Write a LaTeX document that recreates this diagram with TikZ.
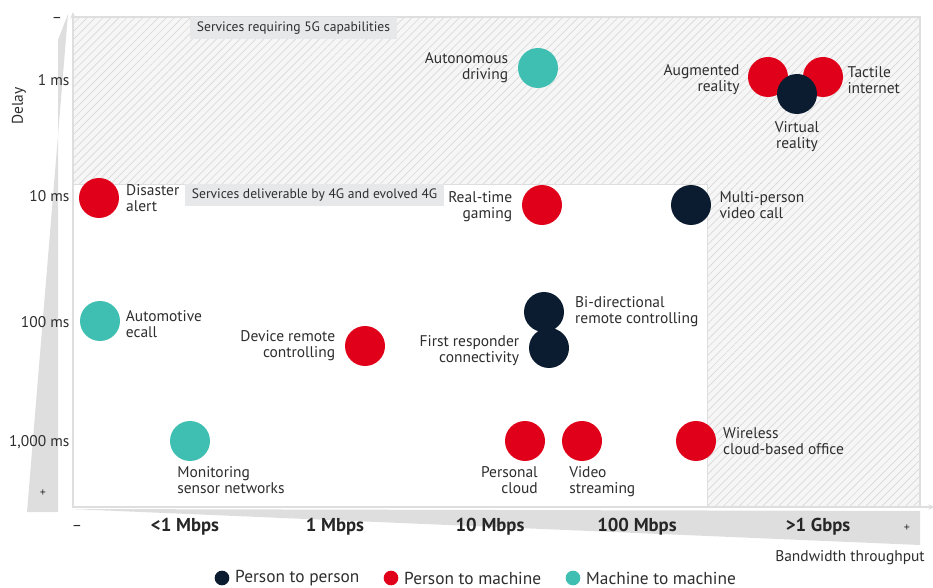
\documentclass[tikz,border=0pt]{standalone}
\usepackage{fontspec}
\setmainfont{PT Sans}
\usetikzlibrary{positioning,patterns.meta,arrows.meta}

\definecolor{ptm}{HTML}{E1001A}
\definecolor{ptp}{HTML}{0C1C30}
\definecolor{mtm}{HTML}{3EBFB1}
\definecolor{hatchbg}{HTML}{F6F6F6}
\definecolor{hatchln}{HTML}{D9D9D9}
\definecolor{txtgray}{HTML}{2E2E2E}
\definecolor{axisgray}{HTML}{DEDEDE}
\definecolor{tagbg}{HTML}{E6E8EA}

\begin{document}
\begin{tikzpicture}[x=0.75pt, y=-0.75pt,
                    node distance=4pt,
                    font=\fontsize{11.6}{12}\selectfont]
    \tikzstyle{dot}=[circle,
                    minimum size=30pt,
                    inner sep=0pt]
    \tikzstyle{lbl}=[text=txtgray,
                    inner sep=1pt]
    \tikzstyle{tick}=[text=txtgray,
                    anchor=east,
                    inner sep=1pt]
    \tikzstyle{rate}=[text=black!85,
                    font=\bfseries\fontsize{14}{16}\selectfont]
    \tikzstyle{tag}=[fill=tagbg,
                    text=txtgray,
                    anchor=north west,
                    minimum height=15.5pt,
                    inner xsep=5pt,
                    font=\fontsize{10.2}{11}\selectfont]
    \tikzstyle{key}=[circle,
                    minimum size=11pt,
                    inner sep=0pt]

    \useasboundingbox (0,0) rectangle (933,588);

    % axis wedges
    \fill[axisgray] (27,512) -- (58,512) -- (58,40) -- (68,14) -- cycle;
    \fill[axisgray] (70,509) -- (920,511) -- (920,545) -- cycle;

    % 5G area
    \fill[hatchbg] (73,17) rectangle (920,184);
    \fill[hatchbg] (707,184) rectangle (920,507);
    \fill[pattern={Lines[angle=45,distance=4.2pt,line width=0.5pt]}, pattern color=hatchln]
        (73,17) rectangle (920,184);
    \fill[pattern={Lines[angle=45,distance=4.2pt,line width=0.5pt]}, pattern color=hatchln]
        (707,184) rectangle (920,507);
    \fill[white] (73,184) rectangle (707,507);
    \draw[axisgray, line width=0.6pt] (73,184) -- (707,184) -- (707,507);

    % axes
    \coordinate (origin) at (73,507);
    \coordinate (xend) at (935,507);
    \coordinate (ytop) at (73,12);
    \draw[axisgray, line width=1.2pt] (73,17) rectangle (920,507);
    \draw[axisgray, line width=1pt, -{Stealth[length=5pt,width=4pt]}] (origin) -- (xend);
    \draw[axisgray, line width=1pt, -{Stealth[length=5pt,width=4pt]}] (origin) -- (ytop);

    \node[tag] (tag5g) at (190,17) {Services requiring 5G capabilities};
    \node[tag] (tag4g) at (185,184) {Services deliverable by 4G and evolved 4G};

    % delay ticks
    \node[text=txtgray] (ymin) at (57,20) {–};
    \node[tick] (t1) at (71,80) {1 ms};
    \node[tick] (t10) at (71,196) {10 ms};
    \node[tick] (t100) at (71,322) {100 ms};
    \node[tick] (t1000) at (71,442) {1,000 ms};
    \node[text=txtgray, font=\fontsize{9}{10}\selectfont] (yplus) at (43,493) {+};
    \node[text=txtgray, rotate=90] (delay) at (19,106) {Delay};

    % bandwidth ticks
    \node[text=txtgray] (xmin) at (77,528) {–};
    \node[rate] (b1) at (185,527) {<1 Mbps};
    \node[rate] (b2) at (335,527) {1 Mbps};
    \node[rate] (b3) at (490,527) {10 Mbps};
    \node[rate] (b4) at (637,527) {100 Mbps};
    \node[rate] (b5) at (818,527) {>1 Gbps};
    \node[text=txtgray, font=\fontsize{9}{10}\selectfont] (xplus) at (907,528) {+};
    \node[text=txtgray] (bw) at (850,558) {Bandwidth throughput};

    % services
    \node[dot, fill=ptm] (disaster) at (99,198) {};
    \node[lbl, right=of disaster, align=left] {Disaster\\alert};

    \node[dot, fill=mtm] (ecall) at (100,321) {};
    \node[lbl, right=3pt of ecall, yshift=-2pt, align=left] {Automotive\\ecall};

    \node[dot, fill=ptm] (devremote) at (365,346) {};
    \node[lbl, left=6pt of devremote, align=right] {Device remote\\controlling};

    \node[dot, fill=mtm] (monitoring) at (190,441) {};
    \node[lbl, below=7pt of monitoring.south west, anchor=north west, align=left] {Monitoring\\sensor networks};

    \node[dot, fill=mtm] (autodrive) at (538,68) {};
    \node[lbl, left=6pt of autodrive, align=right] {Autonomous\\driving};

    \node[dot, fill=ptm] (gaming) at (542,205) {};
    \node[lbl, left=6pt of gaming, yshift=-1pt, align=right] {Real-time\\gaming};

    \node[dot, fill=ptp] (videocall) at (691,205) {};
    \node[lbl, right=5pt of videocall, align=left] {Multi-person\\video call};

    \node[dot, fill=ptp] (bidir) at (544,312) {};
    \node[lbl, right=7pt of bidir, align=left] {Bi-directional\\remote controlling};

    \node[dot, fill=ptp] (responder) at (549,348) {};
    \node[lbl, left=6pt of responder, yshift=-2pt, align=right] {First responder\\connectivity};

    \node[dot, fill=ptm] (perscloud) at (525,441) {};
    \node[lbl, below=7pt of perscloud.south east, anchor=north east, align=right] {Personal\\cloud};

    \node[dot, fill=ptm] (streaming) at (582,441) {};
    \node[lbl, below=7pt of streaming.south west, anchor=north west, align=left] {Video\\streaming};

    \node[dot, fill=ptm] (office) at (696,441) {};
    \node[lbl, right=4pt of office, align=left] {Wireless\\cloud-based office};

    \node[dot, fill=ptm] (augmented) at (768,77) {};
    \node[lbl, left=5pt of augmented, yshift=-2pt, align=right] {Augmented\\reality};

    \node[dot, fill=ptm] (tactile) at (823,77) {};
    \node[lbl, right=2pt of tactile, yshift=-2pt, align=left] {Tactile\\internet};

    \node[dot, fill=ptp] (virtual) at (797,94) {};
    \node[lbl, below=4pt of virtual, align=center] {Virtual\\reality};

    % legend
    \node[key, fill=ptp] (keyptp) at (222,578) {};
    \node[lbl, right=3pt of keyptp, font=\fontsize{13}{15}\selectfont] (keyptptxt) {Person to person};
    \node[key, fill=ptm] (keyptm) at (391,578) {};
    \node[lbl, right=3pt of keyptm, font=\fontsize{13}{15}\selectfont] (keyptmtxt) {Person to machine};
    \node[key, fill=mtm] (keymtm) at (573,578) {};
    \node[lbl, right=3pt of keymtm, font=\fontsize{13}{15}\selectfont] (keymtmtxt) {Machine to machine};
\end{tikzpicture}
\end{document}
